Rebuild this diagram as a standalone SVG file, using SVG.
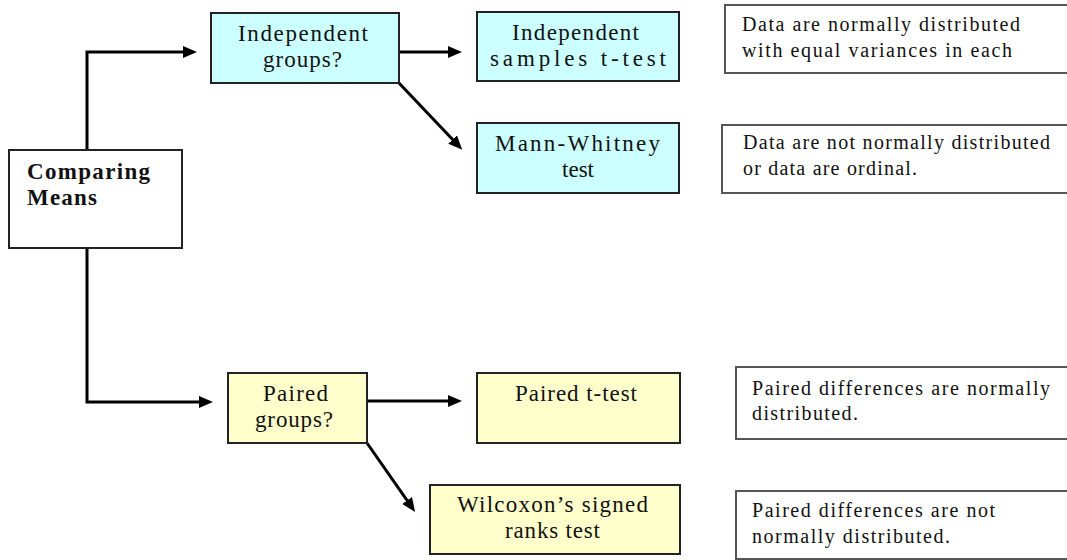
<svg xmlns="http://www.w3.org/2000/svg" width="1067" height="560" viewBox="0 0 1067 560">
<style>
  .box{stroke:#222;stroke-width:2}
  .cyan{fill:#ccffff}
  .yel{fill:#ffffcc}
  .white{fill:#ffffff}
  .note{fill:#ffffff;stroke:#555;stroke-width:2}
  .t{font-family:"Liberation Serif","DejaVu Serif","Times New Roman",serif;font-size:23px;fill:#111}
  .n{font-family:"Liberation Serif","DejaVu Serif","Times New Roman",serif;font-size:20px;fill:#111}
  .b{font-family:"Liberation Serif","DejaVu Serif","Times New Roman",serif;font-size:23px;font-weight:bold;fill:#111}
  .c{fill:none;stroke:#000;stroke-width:3;marker-end:url(#ah)}
</style>
<defs>
  <marker id="ah" markerUnits="userSpaceOnUse" markerWidth="16" markerHeight="12" refX="10" refY="6" orient="auto">
    <path d="M0,0 L14,6 L0,12 z" fill="#000"/>
  </marker>
</defs>
<rect width="1067" height="560" fill="#ffffff"/>

<g id="connectors">
  <path class="c" d="M87,150 V52 H193"/>
  <path class="c" d="M87,248 V402 H209"/>
  <path class="c" d="M399,52 H458"/>
  <path class="c" d="M398,82 L459.5,146.8"/>
  <path class="c" d="M367,401 H458"/>
  <path class="c" d="M367,443 L412.8,508.7"/>
</g>

<g id="comparing-means">
  <rect class="box white" x="9" y="150" width="173" height="98"/>
  <text class="b" x="27" y="179" textLength="123" lengthAdjust="spacing">Comparing</text>
  <text class="b" x="27" y="205" textLength="70" lengthAdjust="spacing">Means</text>
</g>

<g id="independent-groups">
  <rect class="box cyan" x="211" y="13" width="188" height="70"/>
  <text class="t" x="238" y="41" textLength="130" lengthAdjust="spacing">Independent</text>
  <text class="t" x="263" y="67" textLength="79" lengthAdjust="spacing">groups?</text>
</g>

<g id="independent-t-test">
  <rect class="box cyan" x="477" y="12" width="202" height="69"/>
  <text class="t" x="512" y="40" textLength="127" lengthAdjust="spacing">Independent</text>
  <text class="t" x="490" y="66" textLength="176" lengthAdjust="spacing">samples t-test</text>
</g>

<g id="mann-whitney">
  <rect class="box cyan" x="477" y="123" width="202" height="70"/>
  <text class="t" x="495" y="151" textLength="165" lengthAdjust="spacing">Mann-Whitney</text>
  <text class="t" x="562" y="177" textLength="32" lengthAdjust="spacing">test</text>
</g>

<g id="note-ttest">
  <rect class="note" x="725" y="5" width="350" height="68"/>
  <text class="n" x="742" y="31" textLength="278" lengthAdjust="spacing">Data are normally distributed</text>
  <text class="n" x="742" y="57" textLength="270" lengthAdjust="spacing">with equal variances in each</text>
</g>

<g id="note-mann-whitney">
  <rect class="note" x="722" y="125" width="350" height="68"/>
  <text class="n" x="743" y="149" textLength="307" lengthAdjust="spacing">Data are not normally distributed</text>
  <text class="n" x="743" y="175" textLength="174" lengthAdjust="spacing">or data are ordinal.</text>
</g>

<g id="paired-groups">
  <rect class="box yel" x="228" y="373" width="139" height="70"/>
  <text class="t" x="263" y="401" textLength="65" lengthAdjust="spacing">Paired</text>
  <text class="t" x="255" y="427" textLength="78" lengthAdjust="spacing">groups?</text>
</g>

<g id="paired-t-test">
  <rect class="box yel" x="477" y="373" width="203" height="70"/>
  <text class="t" x="515" y="401" textLength="122" lengthAdjust="spacing">Paired t-test</text>
</g>

<g id="wilcoxon">
  <rect class="box yel" x="430" y="485" width="250" height="69"/>
  <text class="t" x="457" y="512" textLength="191" lengthAdjust="spacing">Wilcoxon’s signed</text>
  <text class="t" x="505" y="538" textLength="95" lengthAdjust="spacing">ranks test</text>
</g>

<g id="note-paired-t">
  <rect class="note" x="736" y="367" width="340" height="72"/>
  <text class="n" x="752" y="395" textLength="298" lengthAdjust="spacing">Paired differences are normally</text>
  <text class="n" x="752" y="420" textLength="106" lengthAdjust="spacing">distributed.</text>
</g>

<g id="note-wilcoxon">
  <rect class="note" x="736" y="491" width="340" height="68"/>
  <text class="n" x="752" y="517" textLength="243" lengthAdjust="spacing">Paired differences are not</text>
  <text class="n" x="752" y="543" textLength="198" lengthAdjust="spacing">normally distributed.</text>
</g>
</svg>
